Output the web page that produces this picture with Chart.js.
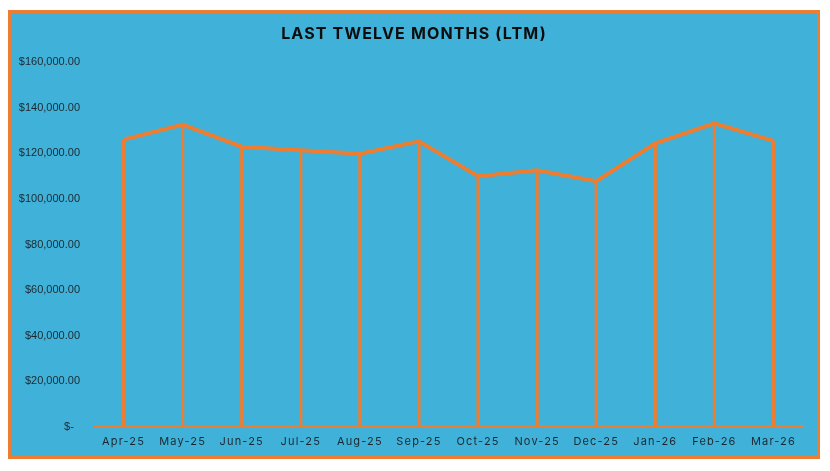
<!DOCTYPE html>
<html>
<head>
<meta charset="utf-8">
<script src="https://cdn.jsdelivr.net/npm/chart.js@4"></script>
<style>
  html, body { margin: 0; padding: 0; background: #fff; }
  #caixa {
    position: absolute; left: 8px; top: 10px;
    width: 806px; height: 443px;
    border: 3px solid #ED7D31;
    background: #40B2D9;
  }
  canvas { display: block; }
</style>
</head>
<body>
<div id="caixa"><canvas id="grafic" width="806" height="443"></canvas></div>
<script>
// Mesos i vendes (LTM)
const mesos = ['Apr-25','May-25','Jun-25','Jul-25','Aug-25','Sep-25','Oct-25','Nov-25','Dec-25','Jan-26','Feb-26','Mar-26'];
const vendes = [126000, 132600, 122900, 121400, 119800, 125300, 110000, 112600, 107800, 124400, 133200, 125500];

const TARONJA = '#ED7D31';

const fmtDolars = v => v === 0 ? '$-  ' : '$' + v.toLocaleString('en-US', { minimumFractionDigits: 2, maximumFractionDigits: 2 });

// espaiat de lletres per al títol i les etiquetes de l'eix x
const pluginEspaiat = {
  id: 'espaiat',
  beforeDraw(chart) { chart.ctx.letterSpacing = '1.15px'; },
  afterDatasetsDraw(chart) { chart.ctx.letterSpacing = '0px'; },
  afterDraw(chart) { chart.ctx.letterSpacing = '0px'; }
};

new Chart(document.getElementById('grafic'), {
  type: 'line',
  data: {
    labels: mesos,
    datasets: [
      {
        label: 'LTM',
        data: vendes,
        borderColor: TARONJA,
        borderWidth: 4,
        borderJoinStyle: 'miter',
        pointRadius: 0,
        tension: 0,
        order: 1
      },
      {
        label: 'Línies',
        type: 'bar',
        data: vendes,
        backgroundColor: TARONJA,
        barThickness: 2.5,
        borderWidth: 0,
        order: 2
      }
    ]
  },
  options: {
    animation: false,
    responsive: false,
    layout: { padding: { left: 0, right: 0, top: 0, bottom: 0 } },
    plugins: {
      legend: { display: false },
      tooltip: { enabled: false },
      title: {
        display: true,
        text: 'LAST TWELVE MONTHS (LTM)',
        color: '#0d0d0d',
        font: { family: 'Inter', size: 16, weight: '700' },
        padding: { top: 12, bottom: 18 }
      }
    },
    scales: {
      x: {
        grid: { display: false, drawTicks: false },
        border: { display: true, color: TARONJA, width: 3 },
        ticks: {
          z: 0,
          padding: 8,
          color: '#1c2830',
          font: { family: 'Inter', size: 11 },
          maxRotation: 0,
          autoSkip: false
        }
      },
      y: {
        min: 0,
        max: 160000,
        grid: { display: false, drawTicks: false },
        border: { display: false },
        afterFit: s => { s.width = 83; },
        ticks: {
          z: 1,
          stepSize: 20000,
          padding: 14,
          color: '#1c2830',
          font: { family: 'Liberation Sans', size: 11 },
          callback: v => fmtDolars(v)
        }
      },
      // marge dret buit
      ydreta: {
        position: 'right',
        display: true,
        min: 0,
        max: 160000,
        grid: { display: false, drawTicks: false },
        border: { display: false },
        ticks: { display: false },
        afterFit: s => { s.width = 14; }
      }
    }
  },
  plugins: [pluginEspaiat]
});
</script>
</body>
</html>
